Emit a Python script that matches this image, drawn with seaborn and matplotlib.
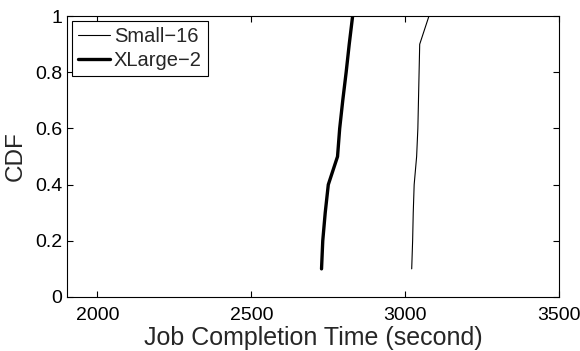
import numpy as np
import pandas as pd
import seaborn as sns
import matplotlib
matplotlib.use("Agg")
import matplotlib.pyplot as plt

# job completion times (seconds) read at each CDF step
cdf_levels = [0.1, 0.2, 0.3, 0.4, 0.5, 0.6, 0.7, 0.8, 0.9, 1.0]
small16_times = [3021, 3024, 3026, 3029, 3037, 3041, 3043, 3045, 3047, 3077]
xlarge2_times = [2728, 2732, 2740, 2750, 2780, 2787, 2797, 2808, 2818, 2829]

x_ticks = [2000, 2500, 3000, 3500]
y_ticks = [0, 0.2, 0.4, 0.6, 0.8, 1]
y_tick_labels = ["0", "0.2", "0.4", "0.6", "0.8", "1"]

df = pd.concat([
    pd.DataFrame({"time": small16_times, "cdf": cdf_levels, "config": "Small\u221216"}),
    pd.DataFrame({"time": xlarge2_times, "cdf": cdf_levels, "config": "XLarge\u22122"}),
])

sns.set_style("white")
plt.rcParams["font.family"] = ["Liberation Sans", "DejaVu Sans"]

fig = plt.figure(figsize=(5.8, 3.51), dpi=100)
ax = fig.add_axes([0.115, 0.154, 0.849, 0.8])

widths = {"Small\u221216": 0.8, "XLarge\u22122": 2.4}
for name, grp in df.groupby("config", sort=False):
    sns.lineplot(
        data=grp, x="time", y="cdf", ax=ax,
        color="black", linewidth=widths[name], label=name,
        estimator=None, sort=False,
    )

ax.set_xlim(1900, 3500)
ax.set_ylim(0, 1)
ax.set_xticks(x_ticks)
ax.set_xticklabels([str(t) for t in x_ticks])
ax.set_yticks(y_ticks)
ax.set_yticklabels(y_tick_labels)
ax.tick_params(direction="in", length=4, width=0.8, top=True, right=True,
               bottom=True, left=True, labelsize=14, colors="black")
ax.tick_params(axis="x", pad=7.5)
ax.tick_params(axis="y", pad=3)
for s in ax.spines.values():
    s.set_visible(True)
    s.set_color("black")
    s.set_linewidth(0.8)

ax.set_xlabel("Job Completion Time (second)", fontsize=18, labelpad=1.5)
ax.set_ylabel("CDF", fontsize=17.5, labelpad=6)

leg = ax.legend(loc="upper left", fontsize=14.5, frameon=True, fancybox=False,
                edgecolor="black", framealpha=1, borderpad=0.3,
                handlelength=1.6, handletextpad=0.2, labelspacing=0.25,
                borderaxespad=0.25)
leg.get_frame().set_linewidth(0.8)

fig.savefig("out.png", dpi=100)
plt.close(fig)
